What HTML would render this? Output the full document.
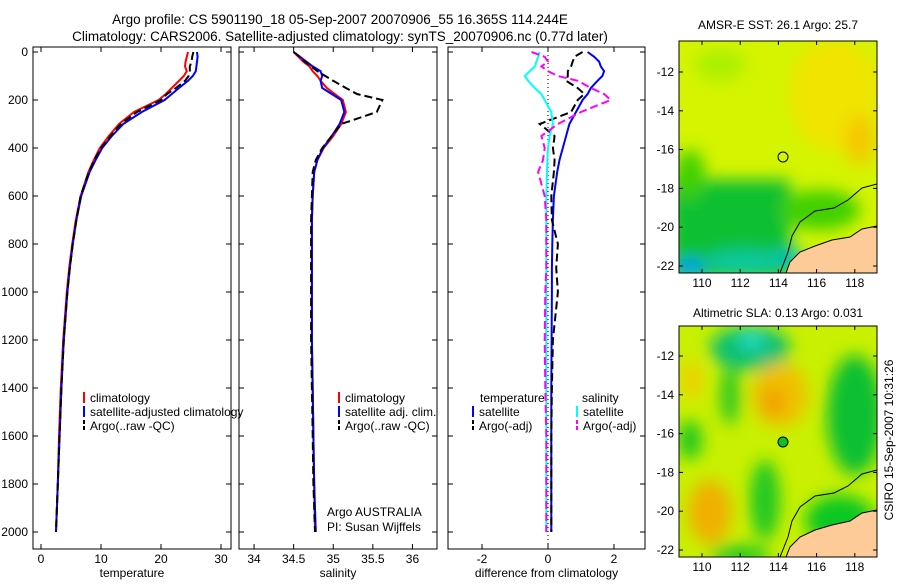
<!DOCTYPE html>
<html><head><meta charset="utf-8"><style>
body{margin:0;background:#fff;}
svg{font-family:"Liberation Sans",sans-serif;}
text{font-size:12px;fill:#000;}
</style></head><body>
<svg id="c" width="900" height="580" viewBox="0 0 900 580">
<defs>
<filter id="bl" x="-50%" y="-50%" width="200%" height="200%"><feGaussianBlur stdDeviation="8"/></filter>
<clipPath id="m1"><rect x="679" y="41" width="198" height="232"/></clipPath>
<clipPath id="m2"><rect x="679" y="326" width="198" height="231"/></clipPath>
</defs>
<text x="340" y="24" text-anchor="middle" style="font-size:13.5px">Argo profile: CS 5901190_18 05-Sep-2007 20070906_55 16.365S 114.244E</text>
<text x="340" y="41" text-anchor="middle" style="font-size:13.5px">Climatology: CARS2006. Satellite-adjusted climatology: synTS_20070906.nc (0.77d later)</text>
<g id="plots"></g>
<g>
<text x="778" y="29" text-anchor="middle">AMSR-E SST: 26.1 Argo: 25.7</text>
<g clip-path="url(#m1)">
<rect x="679" y="41" width="198" height="232" fill="#d4f400"/>
<g filter="url(#bl)">
<ellipse cx="835" cy="95" rx="45" ry="55" fill="#f0e400"/>
<ellipse cx="860" cy="140" rx="15" ry="25" fill="#f5c800"/>
<ellipse cx="720" cy="65" rx="25" ry="15" fill="#a8f000"/>
<rect x="670" y="180" width="120" height="100" fill="#10c030"/>
<ellipse cx="820" cy="210" rx="40" ry="20" fill="#40d000"/>
<ellipse cx="690" cy="175" rx="15" ry="25" fill="#40d000"/>
<ellipse cx="745" cy="262" rx="40" ry="12" fill="#10c8a0"/>
<ellipse cx="690" cy="268" rx="15" ry="10" fill="#00a0f0"/>
<ellipse cx="790" cy="258" rx="14" ry="10" fill="#00c0c0"/>
</g>
<polygon points="877,226 862,229 850,237 832,240 815,246 800,252 790,262 786,273 877,273" fill="#fccb98" stroke="#000" stroke-width="1"/>
<polyline points="877,184 862,188 848,200 834,208 815,211 800,222 792,236 788,252 780,273" fill="none" stroke="#000" stroke-width="1"/>
</g>
<rect x="679" y="41" width="198" height="232" fill="none" stroke="#000"/>
<circle cx="783" cy="157" r="5" fill="none" stroke="#000"/>
<g id="ax1"></g>
</g>
<g>
<text x="778" y="317" text-anchor="middle">Altimetric SLA: 0.13 Argo: 0.031</text>
<g clip-path="url(#m2)">
<rect x="679" y="326" width="198" height="231" fill="#c8f000"/>
<g filter="url(#bl)">
<ellipse cx="750" cy="348" rx="40" ry="22" fill="#10c070"/>
<ellipse cx="752" cy="340" rx="14" ry="10" fill="#20d8c0"/>
<ellipse cx="780" cy="395" rx="28" ry="32" fill="#f0c000"/>
<ellipse cx="773" cy="402" rx="12" ry="14" fill="#f0a000"/>
<ellipse cx="710" cy="512" rx="22" ry="32" fill="#f0b000"/>
<ellipse cx="692" cy="380" rx="10" ry="20" fill="#f0d000"/>
<ellipse cx="855" cy="415" rx="28" ry="60" fill="#10c030"/>
<ellipse cx="690" cy="440" rx="12" ry="20" fill="#20c820"/>
<ellipse cx="765" cy="500" rx="15" ry="40" fill="#20c820"/>
<ellipse cx="740" cy="555" rx="30" ry="10" fill="#20c820"/>
<ellipse cx="730" cy="395" rx="10" ry="30" fill="#30c820"/>
<ellipse cx="840" cy="520" rx="35" ry="25" fill="#10c820"/>
</g>
<polygon points="877,510 862,513 850,521 832,525 815,530 800,537 790,547 786,557 877,557" fill="#fccb98" stroke="#000" stroke-width="1"/>
<polyline points="877,470 862,474 848,486 834,493 815,496 800,507 792,521 788,537 780,557" fill="none" stroke="#000" stroke-width="1"/>
</g>
<rect x="679" y="326" width="198" height="231" fill="none" stroke="#000"/>
<circle cx="783" cy="442" r="5" fill="#10c020" stroke="#000"/>
<g id="ax2"></g>
</g>
<text transform="translate(893,440) rotate(-90)" text-anchor="middle">CSIRO 15-Sep-2007 10:31:26</text>
</svg>
<script>
const depths=[0,20,40,60,80,100,120,150,175,200,250,300,350,400,450,500,600,700,800,900,1000,1200,1400,1600,1800,2000];
const tClim=[24.5,24.3,24.1,24.0,24.3,23.8,23.0,21.8,20.8,19.6,15.5,13.0,11.3,9.8,8.8,7.9,6.6,5.8,5.2,4.7,4.3,3.7,3.3,3.0,2.8,2.5];
const tSat=[26.0,26.1,26.0,25.9,25.8,25.3,24.5,23.0,21.8,20.6,16.8,13.7,11.8,10.2,9.1,8.1,6.7,5.9,5.3,4.8,4.4,3.8,3.4,3.1,2.8,2.5];
const tArgo=[25.4,25.2,25.1,24.8,24.8,24.6,24.0,22.5,21.0,20.0,16.0,13.3,11.6,10.0,8.9,8.0,6.6,5.9,5.3,4.8,4.4,3.8,3.4,3.1,2.8,2.5];
const sClim=[34.50,34.56,34.62,34.70,34.74,34.80,34.84,34.92,35.02,35.12,35.16,35.10,35.00,34.88,34.80,34.76,34.74,34.73,34.73,34.73,34.73,34.73,34.74,34.75,34.76,34.77];
const sSat=[34.50,34.58,34.66,34.74,34.84,34.86,34.84,34.86,34.98,35.10,35.14,35.08,34.98,34.87,34.80,34.76,34.74,34.73,34.73,34.73,34.73,34.73,34.74,34.75,34.76,34.78];
const sArgo=[34.50,34.58,34.64,34.72,34.80,34.90,35.00,35.16,35.30,35.62,35.55,35.10,34.98,34.86,34.78,34.74,34.73,34.72,34.72,34.72,34.72,34.72,34.73,34.74,34.75,34.77];
const dTSat=[1.2,1.4,1.55,1.6,1.7,1.65,1.5,1.3,1.2,1.05,0.85,0.65,0.55,0.45,0.35,0.28,0.18,0.15,0.13,0.12,0.12,0.11,0.1,0.1,0.1,0.1];
const dTArgo=[1.05,0.8,0.75,0.7,0.6,0.6,0.55,0.9,1.1,0.9,0.7,-0.25,0.2,0.15,0.2,0.18,0.1,0.12,0.3,0.25,0.3,0.15,0.12,0.1,0.1,0.1];
const dSSat=[-0.25,-0.3,-0.35,-0.4,-0.55,-0.7,-0.6,-0.4,-0.2,-0.1,0.1,0.15,0.05,0,-0.02,-0.03,-0.05,-0.05,-0.05,-0.05,-0.05,-0.05,-0.05,-0.05,-0.05,-0.05];
const dSArgo=[-0.5,-0.1,0.0,-0.2,0.0,0.3,0.9,1.3,1.7,1.9,1.0,0.3,-0.2,-0.1,-0.15,-0.3,-0.1,-0.05,-0.05,-0.05,-0.08,-0.1,-0.08,-0.05,-0.05,-0.05];
const depthTicks=[0,200,400,600,800,1000,1200,1400,1600,1800,2000];
const tTicks=[0,10,20,30];
const sTicks=[34,34.5,35,35.5,36];
const dTicks=[-2,0,2];
const lonTicks=[110,112,114,116,118];
const latTicks=[-12,-14,-16,-18,-20,-22];

const NS='http://www.w3.org/2000/svg';
function mk(tag,attrs,parent){const e=document.createElementNS(NS,tag);for(const k in attrs)e.setAttribute(k,attrs[k]);parent.appendChild(e);return e;}
const yD=d=>52+d*0.24;
const plots=document.getElementById('plots');
const panels=[
 {x0:33,x1:231,lo:-1.333,hi:31.667,ticks:tTicks,label:'temperature',name:'temperature-panel',ylab:true},
 {x0:239,x1:437,lo:33.81,hi:36.31,ticks:sTicks,label:'salinity',name:'salinity-panel'},
 {x0:448,x1:645,lo:-3.03,hi:2.94,ticks:dTicks,label:'difference from climatology',name:'difference-panel'}
];
function xS(p,v){return p.x0+(v-p.lo)/(p.hi-p.lo)*(p.x1-p.x0);}
panels.forEach((p,i)=>{
 const g=mk('g',{},plots);
 
 
 mk('rect',{x:p.x0,y:47,width:p.x1-p.x0,height:502,fill:'none',stroke:'#000'},g);
 p.ticks.forEach(t=>{const x=xS(p,t);
  mk('line',{x1:x,x2:x,y1:549,y2:544,stroke:'#000'},g);mk('line',{x1:x,x2:x,y1:47,y2:52,stroke:'#000'},g);
  const tx=mk('text',{x:x,y:563,'text-anchor':'middle'},g);tx.textContent=t;
  
  });
 depthTicks.forEach(d=>{const y=yD(d);
  mk('line',{x1:p.x0,x2:p.x0+5,y1:y,y2:y,stroke:'#000'},g);mk('line',{x1:p.x1,x2:p.x1-5,y1:y,y2:y,stroke:'#000'},g);
  if(p.ylab){const tx=mk('text',{x:28,y:y+4,'text-anchor':'end'},g);tx.textContent=d;
   
   }});
 const xl=mk('text',{x:(p.x0+p.x1)/2,y:577,'text-anchor':'middle'},g);xl.textContent=p.label;
 
 
});
function line(p,vals,col,dash,name){
 const pts=vals.map((v,i)=>xS(p,v).toFixed(1)+','+yD(depths[i]).toFixed(1)).join(' ');
 const l=mk('polyline',{points:pts,fill:'none',stroke:col,'stroke-width':2,'stroke-dasharray':dash||'none'},plots);
 
 
}
line(panels[0],tClim,'#f00',null,'temp-climatology-line');
line(panels[0],tSat,'#00f',null,'temp-satellite-line');
line(panels[0],tArgo,'#000','8,4','temp-argo-line');
line(panels[1],sClim,'#f00',null,'sal-climatology-line');
line(panels[1],sSat,'#00f',null,'sal-satellite-line');
line(panels[1],sArgo,'#000','8,4','sal-argo-line');
mk('line',{x1:548,x2:548,y1:47,y2:549,stroke:'#000','stroke-dasharray':'1,3'},plots);
line(panels[2],dTSat,'#00f',null,'diff-temp-satellite-line');
line(panels[2],dTArgo,'#000','8,4','diff-temp-argo-line');
line(panels[2],dSSat,'#0ff',null,'diff-sal-satellite-line');
line(panels[2],dSArgo,'#f0f','8,4','diff-sal-argo-line');
function legend(x,y,col,dash,txt,name){
 const g=mk('g',{},plots);
 
 
 mk('line',{x1:x,x2:x,y1:y-10,y2:y+1,stroke:col,'stroke-width':2,'stroke-dasharray':dash||'none'},g);
 const t=mk('text',{x:x+6,y:y},g);t.textContent=txt;
}
legend(84,402,'#f00',null,'climatology','legend-climatology');
legend(84,416,'#00f',null,'satellite-adjusted climatology','legend-satellite');
legend(84,430,'#000','4,2','Argo(..raw -QC)','legend-argo');
legend(339,402,'#f00',null,'climatology','legend-sal-climatology');
legend(339,416,'#00f',null,'satellite adj. clim.','legend-sal-satellite');
legend(339,430,'#000','4,2','Argo(..raw -QC)','legend-sal-argo');
const t1=mk('text',{x:480,y:402},plots);t1.textContent='temperature';
const t2=mk('text',{x:582,y:402},plots);t2.textContent='salinity';
legend(473,416,'#00f',null,'satellite','legend-diff-temp-satellite');
legend(473,430,'#000','4,2','Argo(-adj)','legend-diff-temp-argo');
legend(577,416,'#0ff',null,'satellite','legend-diff-sal-satellite');
legend(577,430,'#f0f','4,2','Argo(-adj)','legend-diff-sal-argo');
const a1=mk('text',{x:327,y:516},plots);a1.textContent='Argo AUSTRALIA';
const a2=mk('text',{x:327,y:531},plots);a2.textContent='PI: Susan Wijffels';
function mapAxes(id,top,bot,lat0y){
 const g=document.getElementById(id);
 lonTicks.forEach(l=>{const x=702+(l-110)*19.1;
  mk('line',{x1:x,x2:x,y1:top,y2:top+4,stroke:'#000'},g);mk('line',{x1:x,x2:x,y1:bot,y2:bot-4,stroke:'#000'},g);
  const t=mk('text',{x:x,y:bot+14,'text-anchor':'middle'},g);t.textContent=l;
  
  });
 latTicks.forEach(l=>{const y=lat0y+(-12-l)*19.4;
  mk('line',{x1:679,x2:683,y1:y,y2:y,stroke:'#000'},g);mk('line',{x1:877,x2:873,y1:y,y2:y,stroke:'#000'},g);
  const t=mk('text',{x:674,y:y+4,'text-anchor':'end'},g);t.textContent=l;
  
  });
}
mapAxes('ax1',41,273,72);
mapAxes('ax2',326,557,356);
</script>
</body></html>
